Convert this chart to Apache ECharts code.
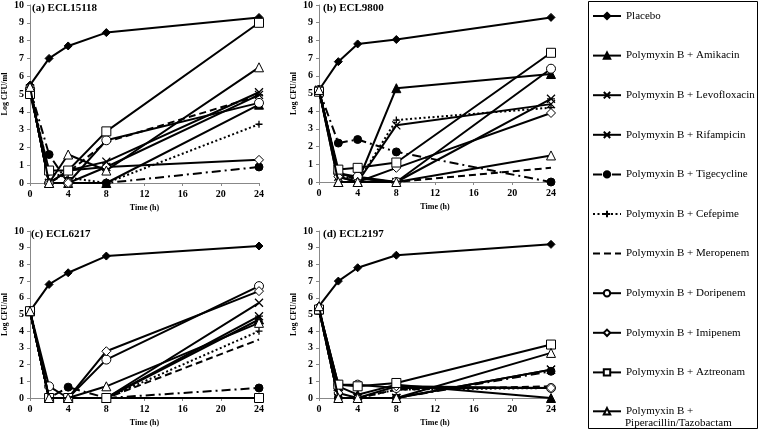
<!DOCTYPE html>
<html>
<head>
<meta charset="utf-8">
<script src="https://cdn.jsdelivr.net/npm/echarts@6/dist/echarts.min.js"></script>
<style>
html,body{margin:0;padding:0;background:#fff;}
#chart{width:760px;height:438px;}
</style>
</head>
<body>
<div id="chart"></div>
<script>
// ---------- DATA ----------
const times = [0, 2, 4, 8, 24];
const xTicks = [0, 4, 8, 12, 16, 20, 24];
const yTicks = [0, 1, 2, 3, 4, 5, 6, 7, 8, 9, 10];
const seriesNames = [
  'Placebo',
  'Polymyxin B + Amikacin',
  'Polymyxin B + Levofloxacin',
  'Polymyxin B + Rifampicin',
  'Polymyxin B + Tigecycline',
  'Polymyxin B + Cefepime',
  'Polymyxin B + Meropenem',
  'Polymyxin B + Doripenem',
  'Polymyxin B + Imipenem',
  'Polymyxin B + Aztreonam',
  'Polymyxin B + Piperacillin/Tazobactam'
];
const panelTitles = ['(a) ECL15118', '(b) ECL9800', '(c) ECL6217', '(d) ECL2197'];

// rows follow seriesNames order; columns follow times
const ecl15118 = [
  [5.5, 7.0, 7.7, 8.45, 9.3],
  [5.3, 0, 0, 0, 4.4],
  [5.3, 0, 0.7, 1.2, 5.1],
  [5.3, 0, 0.7, 0.9, 4.95],
  [5.3, 1.6, 0, 0, 0.9],
  [5.3, 0.6, 0.3, 0, 3.3],
  [5.3, 0, 0.6, 2.3, 4.9],
  [5.3, 0, 0, 2.4, 4.5],
  [5.3, 0, 0, 0.9, 1.3],
  [5.0, 0.7, 0.7, 2.9, 9.0],
  [5.4, 0, 1.6, 0.7, 6.5]
];
const ecl9800 = [
  [5.2, 6.8, 7.8, 8.05, 9.3],
  [5.2, 0, 0, 5.3, 6.1],
  [5.2, 0.3, 0, 3.2, 4.4],
  [5.2, 0.5, 0.2, 0, 4.7],
  [5.2, 2.2, 2.4, 1.7, 0],
  [5.2, 0.5, 0, 3.5, 4.2],
  [5.2, 0.3, 0.2, 0, 0.8],
  [5.2, 0.5, 0.3, 0, 6.4],
  [5.2, 0.3, 0, 0.8, 3.9],
  [5.1, 0.7, 0.8, 1.1, 7.3],
  [5.2, 0, 0, 0, 1.5]
];
const ecl6217 = [
  [5.2, 6.8, 7.5, 8.5, 9.1],
  [5.2, 0, 0, 0, 4.7],
  [5.2, 0, 0, 0, 5.7],
  [5.2, 0, 0, 0, 4.9],
  [5.2, 0, 0.65, 0, 0.6],
  [5.2, 0, 0, 0, 4.0],
  [5.2, 0, 0, 0, 3.5],
  [5.2, 0.7, 0, 2.3, 6.7],
  [5.2, 0, 0, 2.8, 6.4],
  [5.2, 0, 0, 0, 0],
  [5.2, 0, 0, 0.7, 4.5]
];
const ecl2197 = [
  [5.5, 7.0, 7.8, 8.55, 9.2],
  [5.3, 0.7, 0.2, 0.8, 0],
  [5.3, 0, 0, 0, 1.7],
  [5.3, 0, 0, 0, 1.7],
  [5.3, 0, 0, 0, 1.6],
  [5.3, 0, 0, 0.5, 0.6],
  [5.3, 0, 0, 0.5, 0.7],
  [5.3, 0.8, 0.8, 0.6, 0.6],
  [5.3, 0.3, 0, 0.7, 0.6],
  [5.3, 0.8, 0.7, 0.9, 3.2],
  [5.5, 0, 0, 0, 2.7]
];
const panels = [ecl15118, ecl9800, ecl6217, ecl2197];

// ---------- STYLES ----------
const FONT = '"Liberation Serif", "Times New Roman", serif';
const styles = [
  {symbol: 'diamond', size: 8, fill: '#000', line: 'solid'},
  {symbol: 'triangle', size: 9, fill: '#000', line: 'solid'},
  {symbol: 'path://M0,0L10,10M10,0L0,10', size: 8, fill: '#000', line: 'solid', stroke: true},
  {symbol: 'path://M0,0L10,10M10,0L0,10M0,5L10,5', size: 8, fill: '#000', line: 'solid', stroke: true},
  {symbol: 'circle', size: 8, fill: '#000', line: [9, 4, 2, 4]},
  {symbol: 'path://M5,0L5,10M0,5L10,5', size: 7, fill: '#000', line: [2, 2.5], stroke: true},
  {symbol: 'none', size: 0, fill: '#000', line: [7, 4]},
  {symbol: 'circle', size: 9, fill: '#fff', line: 'solid'},
  {symbol: 'diamond', size: 9, fill: '#fff', line: 'solid'},
  {symbol: 'rect', size: 9, fill: '#fff', line: 'solid'},
  {symbol: 'triangle', size: 9, fill: '#fff', line: 'solid'}
];

const grids = [
  {left: 28, top: 5, width: 231, height: 178},
  {left: 319, top: 5, width: 232, height: 177},
  {left: 27, top: 231, width: 232, height: 167},
  {left: 319, top: 231, width: 232, height: 167}
];

const xAxes = grids.map((g, i) => ({
  gridIndex: i, type: 'value', min: 0, max: 24, interval: 4,
  name: 'Time (h)', nameLocation: 'middle', nameGap: 21,
  nameTextStyle: {fontFamily: FONT, fontWeight: 'bold', fontSize: 8, color: '#000'},
  axisLine: {show: true, lineStyle: {color: '#888', width: 1}},
  axisTick: {show: true, length: 3, lineStyle: {color: '#888'}},
  axisLabel: {fontFamily: FONT, fontWeight: 'bold', fontSize: 10, color: '#000', margin: 6},
  splitLine: {show: false}
}));
const yAxes = grids.map((g, i) => ({
  gridIndex: i, type: 'value', min: 0, max: 10, interval: 1,
  name: 'Log CFU/ml', nameLocation: 'middle', nameGap: 21, nameRotate: 90,
  nameTextStyle: {fontFamily: FONT, fontWeight: 'bold', fontSize: 8, color: '#000'},
  axisLine: {show: true, lineStyle: {color: '#888', width: 1}},
  axisTick: {show: true, length: 3, lineStyle: {color: '#888'}},
  axisLabel: {fontFamily: FONT, fontWeight: 'bold', fontSize: 10, color: '#000', margin: 6},
  splitLine: {show: false}
}));

const series = [];
panels.forEach((rows, p) => {
  rows.forEach((vals, s) => {
    const st = styles[s];
    series.push({
      name: seriesNames[s],
      type: 'line',
      xAxisIndex: p, yAxisIndex: p,
      data: times.map((t, k) => [t, vals[k]]),
      symbol: st.symbol,
      symbolSize: st.size,
      showAllSymbol: true,
      lineStyle: {color: '#000', width: 2, type: st.line},
      itemStyle: {color: st.fill, borderColor: '#000', borderWidth: st.stroke ? 1.3 : 1},
      emphasis: {disabled: true},
      z: 2 + s
    });
  });
});

const legendText = {fontFamily: FONT, fontSize: 11, color: '#000'};
const legendData = seriesNames.slice(0, 10).map((n, i) =>
  i === 6 ? {name: n, itemStyle: {opacity: 0}} : {name: n});
const option = {
  animation: false,
  backgroundColor: '#fff',
  grid: grids,
  xAxis: xAxes,
  yAxis: yAxes,
  series: series,
  legend: [
    {
      orient: 'vertical', left: 592, top: 10.5, padding: 0,
      itemWidth: 28, itemHeight: 8, itemGap: 28.6,
      textStyle: legendText,
      data: legendData,
      selectedMode: false
    },
    {
      orient: 'vertical', left: 592, top: 405.8, padding: 0,
      itemWidth: 28, itemHeight: 8,
      textStyle: legendText,
      formatter: () => 'Polymyxin B +',
      data: [seriesNames[10]],
      selectedMode: false
    }
  ],
  graphic: [
    {type: 'rect', shape: {x: 588.5, y: 1.5, width: 169, height: 427}, style: {fill: 'none', stroke: '#000', lineWidth: 1}, z: 0},
    {type: 'text', x: 625, y: 423.5, style: {text: 'Piperacillin/Tazobactam', font: '11px ' + FONT, fill: '#000', verticalAlign: 'middle'}},
    ...panelTitles.map((t, i) => ({
      type: 'text', left: grids[i].left + 4, top: grids[i].top - 2,
      style: {text: t, font: 'bold 11px ' + FONT, fill: '#000'}
    }))
  ]
};
const chart = echarts.init(document.getElementById('chart'));
chart.setOption(option);
</script>
</body>
</html>
